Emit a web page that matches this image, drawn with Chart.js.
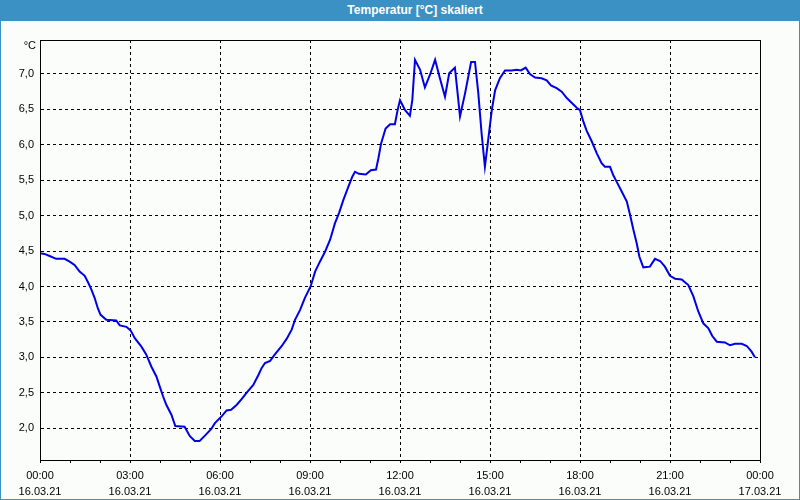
<!DOCTYPE html>
<html>
<head>
<meta charset="utf-8">
<script src="https://cdn.jsdelivr.net/npm/chart.js@4"></script>
<style>
  html, body { margin: 0; padding: 0; background: #fbfdfb; }
  #wrap { position: relative; width: 800px; height: 500px; overflow: hidden; }
  #titlebar {
    position: absolute; left: 0; top: 0; width: 800px; height: 21px;
    background: #3c91c4; color: #fff; z-index: 2;
    font: bold 12px "Liberation Sans", Arial, sans-serif;
    line-height: 21px; text-align: center; padding-left: 30px; box-sizing: border-box;
  }
  #frame {
    position: absolute; left: 0; top: 0; width: 800px; height: 500px; box-sizing: border-box;
    border: 1px solid #3c91c4; border-top: none; pointer-events: none; z-index: 3;
  }
  #chart { position: absolute; left: 0; top: 0; }
</style>
</head>
<body>
<div id="wrap">
  <div id="titlebar">Temperatur [°C] skaliert</div>
  <canvas id="chart" width="800" height="500"></canvas>
  <div id="frame"></div>
</div>
<script>
// time in hours since 16.03.21 00:00
const hours = [
  0.0, 0.15, 0.32, 0.54, 0.82, 0.99, 1.16, 1.32, 1.49, 1.6, 1.71, 1.82, 1.93, 2.02, 2.21, 2.54, 2.66, 2.88,
  3.02, 3.16, 3.38, 3.54, 3.71, 3.88, 3.99, 4.1, 4.21, 4.38, 4.51, 4.82, 4.99, 5.16, 5.32, 5.49, 5.71, 5.83,
  6.06, 6.22, 6.37, 6.56, 6.72, 6.89, 7.11, 7.28, 7.39, 7.5, 7.67, 7.83, 8.06, 8.22, 8.39, 8.5, 8.67, 8.83,
  9.02, 9.17, 9.33, 9.5, 9.67, 9.83, 9.97, 10.11, 10.28, 10.41, 10.5, 10.63, 10.86, 11.03, 11.2, 11.28, 11.37,
  11.52, 11.67, 11.83, 11.92, 12.0, 12.17, 12.33, 12.41, 12.5, 12.67, 12.83, 13.0, 13.17, 13.33, 13.5, 13.64,
  13.83, 13.92, 14.0, 14.17, 14.37, 14.5, 14.61, 14.72, 14.83, 14.94, 15.06, 15.17, 15.33, 15.5, 15.72, 15.89,
  16.03, 16.19, 16.33, 16.5, 16.72, 16.89, 17.03, 17.22, 17.39, 17.56, 17.78, 17.9, 18.0, 18.11, 18.22, 18.39,
  18.56, 18.72, 18.83, 19.0, 19.11, 19.22, 19.39, 19.56, 19.67, 19.78, 19.89, 19.98, 20.11, 20.33, 20.5, 20.67,
  20.83, 21.0, 21.17, 21.39, 21.61, 21.78, 21.94, 22.11, 22.28, 22.41, 22.56, 22.83, 23.0, 23.17, 23.39, 23.56,
  23.72, 23.83
];
const temps = [
  4.47, 4.46, 4.43, 4.39, 4.39, 4.35, 4.30, 4.21, 4.15, 4.06, 3.96, 3.84, 3.69, 3.60, 3.53, 3.52, 3.45, 3.43,
  3.38, 3.27, 3.15, 3.04, 2.87, 2.73, 2.59, 2.45, 2.33, 2.19, 2.03, 2.02, 1.89, 1.82, 1.82, 1.89, 1.99, 2.07,
  2.17, 2.25, 2.26, 2.33, 2.41, 2.50, 2.61, 2.75, 2.85, 2.92, 2.95, 3.04, 3.16, 3.26, 3.39, 3.53, 3.67, 3.84,
  4.00, 4.21, 4.35, 4.49, 4.66, 4.89, 5.04, 5.22, 5.41, 5.55, 5.62, 5.59, 5.58, 5.64, 5.65, 5.81, 6.02,
  6.23, 6.29, 6.29, 6.49, 6.63, 6.49, 6.41, 6.63, 7.20, 7.06, 6.81, 6.99, 7.20, 6.94, 6.68, 7.01,
  7.09, 6.73, 6.40, 6.73, 7.17, 7.17, 6.73, 6.16, 5.69, 6.07, 6.49, 6.77, 6.94, 7.05, 7.05, 7.06,
  7.05, 7.09, 7.00, 6.95, 6.94, 6.91, 6.84, 6.80, 6.75, 6.66, 6.57, 6.52, 6.49, 6.33, 6.20, 6.05,
  5.88, 5.74, 5.69, 5.69, 5.57, 5.48, 5.34, 5.20, 5.01, 4.80, 4.61, 4.42, 4.27, 4.28, 4.39, 4.36,
  4.28, 4.15, 4.11, 4.10, 4.02, 3.86, 3.65, 3.48, 3.41, 3.30, 3.22, 3.21, 3.17, 3.19, 3.19, 3.16,
  3.08, 3.00
];

const yTicks = [2.0, 2.5, 3.0, 3.5, 4.0, 4.5, 5.0, 5.5, 6.0, 6.5, 7.0];
const xTickHours = [0, 3, 6, 9, 12, 15, 18, 21, 24];
const xTimeLabels = ['00:00', '03:00', '06:00', '09:00', '12:00', '15:00', '18:00', '21:00', '00:00'];
const xDateLabels = ['16.03.21', '16.03.21', '16.03.21', '16.03.21', '16.03.21', '16.03.21', '16.03.21', '16.03.21', '17.03.21'];
const yUnit = '°C';

const points = hours.map((h, i) => ({ x: h, y: temps[i] }));
const font = { family: '"Liberation Sans", Arial, sans-serif', size: 11 };

const frameBox = {
  id: 'frameBox',
  afterDraw(chart) {
    const { ctx, chartArea: a } = chart;
    ctx.save();
    ctx.strokeStyle = '#000';
    ctx.lineWidth = 1;
    ctx.strokeRect(Math.round(a.left) + 0.5, Math.round(a.top) + 0.5,
      Math.round(a.right - a.left), Math.round(a.bottom - a.top));
    ctx.fillStyle = '#000';
    ctx.font = '11px "Liberation Sans", Arial, sans-serif';
    ctx.textAlign = 'right';
    ctx.textBaseline = 'middle';
    ctx.fillText(yUnit, a.left - 4, a.top + 6);
    ctx.restore();
  }
};

new Chart(document.getElementById('chart'), {
  type: 'line',
  data: {
    datasets: [{
      data: points,
      borderColor: '#0000e6',
      borderWidth: 2,
      pointRadius: 0,
      tension: 0,
      fill: false
    }]
  },
  options: {
    responsive: false,
    animation: false,
    events: [],
    layout: { padding: { top: 40, right: 40, left: 0, bottom: 0 } },
    plugins: { legend: { display: false }, tooltip: { enabled: false } },
    scales: {
      x: {
        type: 'linear',
        min: 0,
        max: 24,
        afterFit: s => { s.height = 40; },
        afterBuildTicks: s => {
          const t = [];
          for (let h = 0; h <= 24; h++) t.push({ value: h });
          s.ticks = t;
        },
        grid: {
          color: c => (c.tick && c.tick.value % 3 === 0) ? '#000' : 'rgba(0,0,0,0)',
          tickColor: '#000',
          tickLength: 3,
          tickBorderDash: []
        },
        border: { display: true, color: '#000', width: 1, dash: [3, 3] },
        ticks: {
          autoSkip: false,
          maxRotation: 0,
          padding: 5,
          color: '#000',
          font: Object.assign({ lineHeight: 1.45 }, font),
          callback: v => {
            const i = xTickHours.indexOf(v);
            return i < 0 ? '' : [xTimeLabels[i], xDateLabels[i]];
          }
        }
      },
      y: {
        min: 1.55,
        max: 7.48,
        afterFit: s => { s.width = 40; },
        afterBuildTicks: s => { s.ticks = yTicks.map(v => ({ value: v })); },
        grid: { color: '#000', drawTicks: false, tickLength: 0 },
        border: { display: true, color: '#000', width: 1, dash: [3, 3] },
        ticks: {
          padding: 6,
          color: '#000',
          font: font,
          callback: v => v.toFixed(1).replace('.', ',')
        }
      }
    }
  },
  plugins: [frameBox]
});
</script>
</body>
</html>
